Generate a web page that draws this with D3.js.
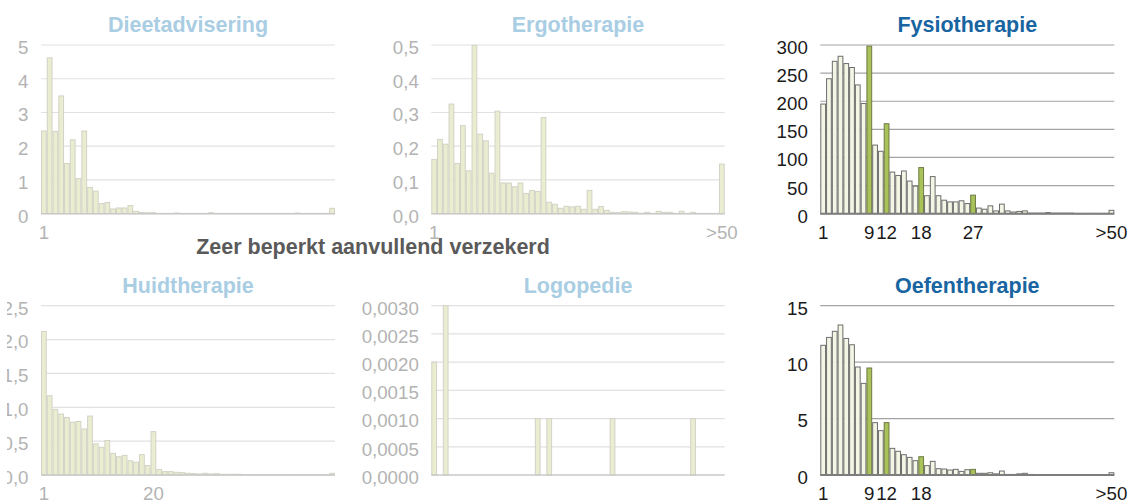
<!DOCTYPE html>
<html>
<head>
<meta charset="utf-8">
<script src="https://cdn.jsdelivr.net/npm/d3@7"></script>
<style>
  html, body { margin: 0; padding: 0; background: #fff; }
  svg { display: block; font-family: "Liberation Sans", Arial, sans-serif; }
</style>
</head>
<body>
<svg id="chart" width="1134" height="503"></svg>
<script>
// Number of treatments per insured person (1 .. 50, and more than 50)
const categories = d3.range(1, 51).map(String).concat([">50"]);

const dieetValues = [2.45, 4.62, 2.44, 3.49, 1.49, 2.19, 1.04, 2.45, 0.78, 0.67,
  0.30, 0.33, 0.14, 0.17, 0.17, 0.24, 0.07, 0.04, 0.03, 0.03,
  0.01, 0.01, 0.01, 0.02, 0.01, 0.01, 0.01, 0.01, 0.01, 0.03,
  0.01, 0.01, 0.01, 0.01, 0.01, 0.01, 0.01, 0.01, 0.01, 0.01,
  0.01, 0.01, 0.01, 0.01, 0.02, 0.01, 0.01, 0.01, 0.01, 0.01, 0.16];

const ergoValues = [0.161, 0.220, 0.206, 0.325, 0.149, 0.261, 0.127, 0.499, 0.236, 0.216,
  0.120, 0.304, 0.091, 0.091, 0.080, 0.091, 0.060, 0.069, 0.066, 0.285,
  0.034, 0.028, 0.016, 0.022, 0.020, 0.022, 0.013, 0.069, 0.013, 0.021,
  0.010, 0.004, 0.003, 0.006, 0.005, 0.004, 0.001, 0.004, 0.001, 0.007,
  0.004, 0.004, 0.001, 0.007, 0.001, 0.004, 0.001, 0.001, 0.001, 0.001, 0.147];

const fysioValues = [195, 240, 271, 280, 267, 260, 229, 196, 298, 122,
  111, 160, 74, 68, 76, 58, 49, 82, 32, 66,
  32, 24, 21, 21, 23, 18, 33, 10, 8, 14,
  5, 17, 5, 3, 4, 5, 1, 1, 1, 2,
  1, 1, 1, 1, 0.5, 0.5, 0.5, 0.5, 0.5, 0.5, 6];

const huidValues = [2.12, 1.17, 0.97, 0.90, 0.85, 0.78, 0.79, 0.68, 0.87, 0.46,
  0.41, 0.51, 0.32, 0.27, 0.29, 0.21, 0.19, 0.30, 0.14, 0.64,
  0.08, 0.05, 0.05, 0.04, 0.035, 0.025, 0.02, 0.015, 0.025, 0.015,
  0.02, 0.01, 0.01, 0.01, 0.01, 0.005, 0.005, 0.005, 0.005, 0.005,
  0.005, 0.005, 0.005, 0.005, 0.005, 0.005, 0.005, 0.005, 0.005, 0.005, 0.025];

const logoValues = [0.002, 0, 0.003, 0, 0, 0, 0, 0, 0, 0,
  0, 0, 0, 0, 0, 0, 0, 0, 0.001, 0,
  0.001, 0, 0, 0, 0, 0, 0, 0, 0, 0,
  0, 0.001, 0, 0, 0, 0, 0, 0, 0, 0,
  0, 0, 0, 0, 0, 0.001, 0, 0, 0, 0, 0];

const oefenValues = [11.49, 12.19, 12.73, 13.29, 12.10, 11.54, 9.57, 8.12, 9.48, 4.64,
  3.93, 4.64, 2.36, 2.10, 1.80, 1.56, 1.27, 1.62, 0.83, 1.21,
  0.56, 0.53, 0.44, 0.50, 0.32, 0.47, 0.50, 0.15, 0.15, 0.20,
  0.10, 0.35, 0.05, 0.05, 0.10, 0.15, 0.05, 0.03, 0.03, 0.03,
  0.03, 0.03, 0.03, 0.03, 0.03, 0.03, 0.03, 0.03, 0.03, 0.03, 0.20];

// Treatment counts that are marked in green
const highlighted = ["9", "12", "18", "27"];

const panelTitles = ["Dieetadvisering", "Ergotherapie", "Fysiotherapie",
                     "Huidtherapie", "Logopedie", "Oefentherapie"];
const yTicks = [
  [0, 1, 2, 3, 4, 5],
  [0, 0.1, 0.2, 0.3, 0.4, 0.5],
  [0, 50, 100, 150, 200, 250, 300],
  [0, 0.5, 1, 1.5, 2, 2.5],
  [0, 0.0005, 0.001, 0.0015, 0.002, 0.0025, 0.003],
  [0, 5, 10, 15]
];
const xTickLabels = [
  ["1"],
  ["1", ">50"],
  ["1", "9", "12", "18", "27", ">50"],
  ["1", "20"],
  [],
  ["1", "9", "12", "18", ">50"]
];
const middleTitle = "Zeer beperkt aanvullend verzekerd";

const nl = d3.formatLocale({decimal: ",", thousands: ".", grouping: [3], currency: ["€ ", ""]});
const yFormats = [nl.format(".0f"), nl.format(".1f"), nl.format(".0f"),
                  nl.format(".1f"), nl.format(".4f"), nl.format(".0f")];
const seriesValues = [dieetValues, ergoValues, fysioValues, huidValues, logoValues, oefenValues];
// Panels shown at full strength; the others are drawn faded
const emphasised = [false, false, true, false, false, true];

const colX = [[41, 335], [431.3, 724.7], [820.3, 1114.3]];
const rowY = [[45, 213.7], [305.7, 475]];
const titleY = [31.5, 293];

const faded = {
  title: "#a9cde3", tick: "#b3b3b3", grid: "#e1e1e1", base: "#c9c9c9",
  fill: "#eaedd0", stroke: "#d2d2c6", hiFill: "#eaedd0", hiStroke: "#d2d2c6"
};
const strong = {
  title: "#1865a1", tick: "#1a1a1a", grid: "#a3a3a3", base: "#7d7d7d",
  fill: "#f3f5e5", stroke: "#6d6d6d", hiFill: "#a9c25a", hiStroke: "#6f7a46"
};

const svg = d3.select("#chart");
const FS_TICK = 18.7, FS_TITLE = 21.5;

// the lower-left panel's labels are cut off at the frame edge
svg.append("defs").append("clipPath").attr("id", "frame-edge")
  .attr("clipPathUnits", "userSpaceOnUse")
  .append("rect").attr("x", 7).attr("y", 0).attr("width", 1127).attr("height", 503);

seriesValues.forEach((values, p) => {
  const col = p % 3, row = Math.floor(p / 3);
  const [x0, x1] = colX[col];
  const [yTop, yBot] = rowY[row];
  const st = emphasised[p] ? strong : faded;
  const ticks = yTicks[p];

  const x = d3.scaleBand().domain(categories).range([x0, x1]).padding(0);
  const y = d3.scaleLinear().domain([0, ticks[ticks.length - 1]]).range([yBot, yTop]);
  const g = svg.append("g");

  // horizontal gridlines
  g.append("g").selectAll("line").data(ticks.slice(1)).join("line")
    .attr("x1", x0).attr("x2", x1)
    .attr("y1", d => y(d)).attr("y2", d => y(d))
    .attr("stroke", st.grid).attr("stroke-width", 1.2);

  // bars
  const data = categories.map((c, i) => ({c, v: values[i]})).filter(d => d.v > 0);
  g.append("g").selectAll("rect").data(data).join("rect")
    .attr("x", d => x(d.c) + 0.5)
    .attr("width", x.bandwidth() - 1)
    .attr("y", d => y(d.v))
    .attr("height", d => Math.max(0, yBot - y(d.v)))
    .attr("fill", d => emphasised[p] && highlighted.includes(d.c) ? st.hiFill : st.fill)
    .attr("stroke", d => emphasised[p] && highlighted.includes(d.c) ? st.hiStroke : st.stroke)
    .attr("stroke-width", 1);

  // baseline
  g.append("line").attr("x1", x0).attr("x2", x1)
    .attr("y1", yBot).attr("y2", yBot)
    .attr("stroke", st.base).attr("stroke-width", emphasised[p] ? 2 : 1.6);

  // y axis labels (wrapped so that a clip can act in page coordinates)
  const yWrap = g.append("g");
  if (col === 0 && row === 1) yWrap.attr("clip-path", "url(#frame-edge)");
  const yAxis = d3.axisLeft(y).tickValues(ticks).tickFormat(yFormats[p]).tickSize(0).tickPadding(12.5);
  const ya = yWrap.append("g").attr("transform", `translate(${x0},0)`).call(yAxis);
  ya.select(".domain").remove();
  ya.selectAll("text").attr("fill", st.tick).attr("font-size", FS_TICK)
    .attr("font-family", "Liberation Sans, Arial, sans-serif").attr("dy", "0.45em");

  // x axis labels
  const xAxis = d3.axisBottom(x).tickValues(xTickLabels[p]).tickSize(0).tickPadding(0);
  const xa = g.append("g").attr("transform", `translate(0,${yBot})`).call(xAxis);
  xa.select(".domain").remove();
  xa.selectAll("text").attr("fill", st.tick).attr("font-size", FS_TICK)
    .attr("font-family", "Liberation Sans, Arial, sans-serif")
    .attr("dy", null).attr("y", 25);

  // panel title
  g.append("text").attr("x", (x0 + x1) / 2).attr("y", titleY[row])
    .attr("text-anchor", "middle").attr("font-size", FS_TITLE).attr("font-weight", "bold")
    .attr("fill", st.title).text(panelTitles[p]);
});

svg.append("text").attr("x", 373).attr("y", 254)
  .attr("text-anchor", "middle").attr("font-size", FS_TITLE).attr("font-weight", "bold")
  .attr("fill", "#5a5a5a").text(middleTitle);
</script>
</body>
</html>
